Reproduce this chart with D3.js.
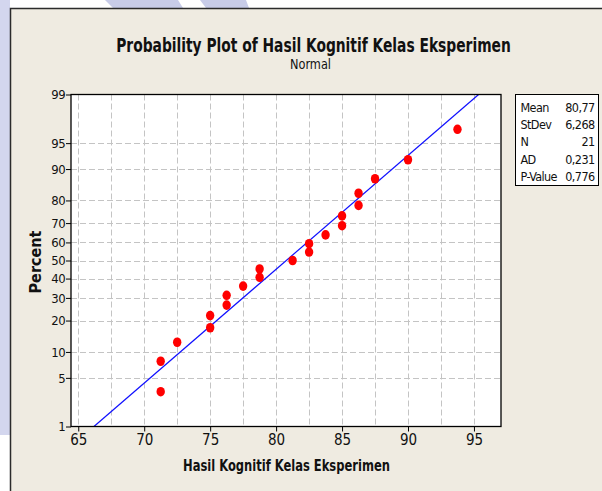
<!DOCTYPE html>
<html>
<head>
<meta charset="utf-8">
<script src="https://cdn.jsdelivr.net/npm/d3@7"></script>
<style>
  html, body { margin: 0; padding: 0; background: #ffffff; }
  svg { display: block; }
  text { font-family: "DejaVu Sans Condensed", "DejaVu Sans", sans-serif; font-stretch: condensed; fill: #111; }
</style>
</head>
<body>
<div id="chart"></div>
<script>
// ---- data ----
const scores   = [71.25, 71.25, 72.5, 75, 75, 76.25, 76.25, 77.5, 78.75, 78.75, 81.25,
                  82.5, 82.5, 83.75, 85, 85, 86.25, 86.25, 87.5, 90, 93.75];
const percents = [3.3, 7.9, 12.6, 17.3, 22.0, 26.6, 31.3, 36.0, 40.7, 45.3, 50.0,
                  54.7, 59.3, 64.0, 68.7, 73.4, 78.0, 82.7, 87.4, 92.1, 96.7];
const xTicks = [65, 70, 75, 80, 85, 90, 95];
const yTicks = [1, 5, 10, 20, 30, 40, 50, 60, 70, 80, 90, 95, 99];
const statLabels = ["Mean", "StDev", "N", "AD", "P-Value"];
const statValues = ["80,77", "6,268", "21", "0,231", "0,776"];
const fitMean = 80.77;
const fitSD = 6.268;
const titleText = "Probability Plot of Hasil Kognitif Kelas Eksperimen";
const subtitleText = "Normal";
const xLabel = "Hasil Kognitif Kelas Eksperimen";
const yLabel = "Percent";

// inverse normal CDF (Acklam)
function probit(p) {
  const a = [-3.969683028665376e+01, 2.209460984245205e+02, -2.759285104469687e+02,
             1.383577518672690e+02, -3.066479806614716e+01, 2.506628277459239e+00];
  const b = [-5.447609879822406e+01, 1.615858368580409e+02, -1.556989798598866e+02,
             6.680131188771972e+01, -1.328068155288572e+01];
  const c = [-7.784894002430293e-03, -3.223964580411365e-01, -2.400758277161838e+00,
             -2.549732539343734e+00, 4.374664141464968e+00, 2.938163982698783e+00];
  const d = [7.784695709041462e-03, 3.224671290700398e-01, 2.445134137142996e+00,
             3.754408661907416e+00];
  const pl = 0.02425, ph = 1 - pl;
  let q, r;
  if (p < pl) {
    q = Math.sqrt(-2 * Math.log(p));
    return (((((c[0]*q+c[1])*q+c[2])*q+c[3])*q+c[4])*q+c[5]) / ((((d[0]*q+d[1])*q+d[2])*q+d[3])*q+1);
  } else if (p <= ph) {
    q = p - 0.5; r = q * q;
    return (((((a[0]*r+a[1])*r+a[2])*r+a[3])*r+a[4])*r+a[5])*q / (((((b[0]*r+b[1])*r+b[2])*r+b[3])*r+b[4])*r+1);
  } else {
    q = Math.sqrt(-2 * Math.log(1 - p));
    return -(((((c[0]*q+c[1])*q+c[2])*q+c[3])*q+c[4])*q+c[5]) / ((((d[0]*q+d[1])*q+d[2])*q+d[3])*q+1);
  }
}

const W = 602, H = 491;
const plot = { left: 71, right: 501, top: 94.5, bottom: 426.5 };

const svg = d3.select("#chart").append("svg").attr("width", W).attr("height", H);

// background + watermark
svg.append("rect").attr("width", W).attr("height", H).attr("fill", "#ffffff");
svg.append("rect").attr("x", 0).attr("y", 0).attr("width", 10).attr("height", 435).attr("fill", "#d3d6ee");
svg.append("polygon").attr("points", "105,0 178,0 183,8 113,8").attr("fill", "#c8cce8");
svg.append("polygon").attr("points", "200,0 246,0 249,8 206,8").attr("fill", "#c8cce8");

// panel
svg.append("rect").attr("x", 10.5).attr("y", 8.5).attr("width", 620).attr("height", 520)
  .attr("fill", "#efebe1").attr("stroke", "#2b2b2b").attr("stroke-width", 1.5);

// scales
const x = d3.scaleLinear().domain([64.45, 97.05]).range([plot.left, plot.right]);
const z = d3.scaleLinear().domain([probit(0.01), probit(0.99)]).range([plot.bottom, plot.top]);
const yP = p => z(probit(p / 100));

// plot area
svg.append("rect").attr("x", plot.left).attr("y", plot.top)
  .attr("width", plot.right - plot.left).attr("height", plot.bottom - plot.top)
  .attr("fill", "#ffffff");

// grid
const grid = svg.append("g").attr("stroke", "#c4c4c4").attr("stroke-width", 1).attr("stroke-dasharray", "6,3");
d3.range(65, 97.5, 2.5).forEach(v => {
  grid.append("line").attr("x1", Math.round(x(v)) + 0.5).attr("x2", Math.round(x(v)) + 0.5)
    .attr("y1", plot.top).attr("y2", plot.bottom);
});
yTicks.filter(p => p > 1 && p < 99).forEach(p => {
  grid.append("line").attr("y1", Math.round(yP(p)) + 0.5).attr("y2", Math.round(yP(p)) + 0.5)
    .attr("x1", plot.left).attr("x2", plot.right);
});

// fit line
const line = d3.line().x(p => x(fitMean + fitSD * probit(p / 100))).y(p => yP(p));
svg.append("path").datum([1, 99]).attr("d", line)
  .attr("fill", "none").attr("stroke", "#1010ff").attr("stroke-width", 1.2);

// points
svg.append("g").selectAll("ellipse").data(scores).join("ellipse")
  .attr("cx", d => x(d)).attr("cy", (d, i) => yP(percents[i]))
  .attr("rx", 4.2).attr("ry", 4.8).attr("fill", "#ff0000");

// frame
svg.append("rect").attr("x", plot.left).attr("y", plot.top)
  .attr("width", plot.right - plot.left).attr("height", plot.bottom - plot.top)
  .attr("fill", "none").attr("stroke", "#000").attr("stroke-width", 1.3);

// axes
const xAxis = svg.append("g").attr("transform", `translate(0,${plot.bottom})`)
  .call(d3.axisBottom(x).tickValues(xTicks).tickSize(5).tickPadding(3).tickFormat(d3.format("d")));
xAxis.select(".domain").remove();
xAxis.selectAll("text").attr("font-size", 15).style("font-family", null);
xAxis.selectAll("line").attr("stroke", "#000");

const yAxis = svg.append("g").attr("transform", `translate(${plot.left},0)`)
  .call(d3.axisLeft(z).tickValues(yTicks.map(p => probit(p / 100))).tickSize(5).tickPadding(1)
    .tickFormat((d, i) => yTicks[i]));
yAxis.select(".domain").remove();
yAxis.selectAll("text").attr("font-size", 13).attr("letter-spacing", -0.6).style("font-family", null);
yAxis.selectAll("line").attr("stroke", "#000");
svg.selectAll(".tick text").attr("fill", "#111");

// narrow text helper: scale horizontally to a target width
function fitText(sel, cx, cy, width, rotate) {
  const natural = sel.node().getComputedTextLength();
  const sx = width / natural;
  sel.attr("x", 0).attr("y", 0).attr("text-anchor", "middle")
    .attr("transform", `translate(${cx},${cy})${rotate ? " rotate(" + rotate + ")" : ""} scale(${sx},1)`);
}

// titles
fitText(svg.append("text").attr("font-size", 19).attr("font-weight", "bold").text(titleText), 313.5, 51.5, 395);
fitText(svg.append("text").attr("font-size", 14).text(subtitleText), 310.5, 69, 41);
fitText(svg.append("text").attr("font-size", 15).attr("font-weight", "bold").text(xLabel), 286.5, 471, 207);
fitText(svg.append("text").attr("font-size", 16).attr("font-weight", "bold").text(yLabel), 41, 262, 63, -90);

// stats box
const box = svg.append("g");
box.append("rect").attr("x", 515.5).attr("y", 94.5).attr("width", 83).attr("height", 91)
  .attr("fill", "#ffffff").attr("stroke", "#000").attr("stroke-width", 1);
statLabels.forEach((s, i) => {
  box.append("text").attr("x", 520.5).attr("y", 112 + i * 17.2)
    .attr("font-size", 12.5).attr("letter-spacing", -0.6).text(s);
  box.append("text").attr("x", 594.5).attr("y", 112 + i * 17.2).attr("text-anchor", "end")
    .attr("font-size", 12.5).attr("letter-spacing", -0.6).text(statValues[i]);
});
</script>
</body>
</html>
